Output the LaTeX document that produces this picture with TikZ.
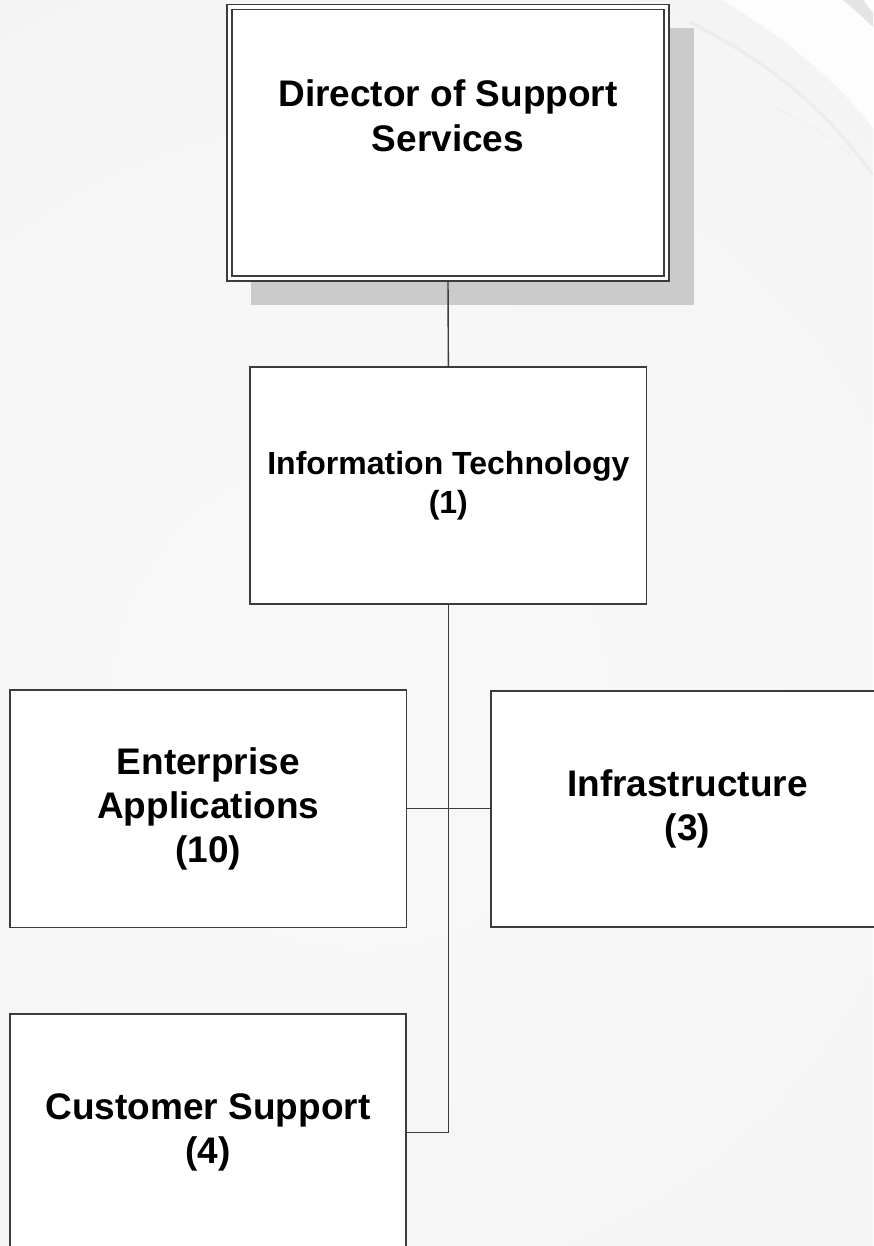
\documentclass[tikz,border=0pt]{standalone}
\usepackage{fontspec}
\setmainfont{Liberation Sans}
\usetikzlibrary{backgrounds}
\definecolor{linecol}{HTML}{3C3C3C}
\definecolor{shadowcol}{HTML}{CBCBCB}
\definecolor{bgin}{HTML}{F9F9F9}
\definecolor{bgout}{HTML}{EDEDED}
\definecolor{stripecol}{HTML}{E4E4E4}
\begin{document}
\begin{tikzpicture}[x=1pt,y=-1pt,
  box/.style={draw=linecol, line width=1.4pt, fill=white, rectangle, inner sep=0pt,
    align=center, font=\bfseries\fontsize{37}{44}\selectfont},
  conn/.style={draw=linecol, line width=1.4pt},
  lbl/.style={align=center, inner sep=0pt, font=\bfseries\fontsize{37}{45}\selectfont}]
\useasboundingbox (0,0) rectangle (873,1246);

% boxes
\node[draw=linecol, line width=1.3pt, double=white, double distance=3.6pt, fill=white,
      rectangle, inner sep=0pt, minimum width=437pt, minimum height=271.7pt] (dir) at (448,142.65) {};
\node[lbl] (dirtext) at (448,116) {Director of Support\\Services};

\node[box, minimum width=396.7pt, minimum height=237pt,
      font=\bfseries\fontsize{32}{39}\selectfont] (it) at (448.35,485.5) {Information Technology\\(1)};

\node[box, minimum width=396.5pt, minimum height=237.3pt] (ent) at (208.25,808.65) {Enterprise\\Applications\\(10)};
\node[box, minimum width=393pt, minimum height=236pt] (inf) at (687.5,809) {Infrastructure\\(3)};
\node[box, minimum width=396pt, minimum height=237pt] (cs) at (208,1132.5) {Customer Support\\(4)};

\begin{scope}[on background layer]
  \clip (0,0) rectangle (873,1246);
  \shade[inner color=bgin, outer color=bgout] (360,700) circle (2000);
  % top-right decoration
  \fill[white, opacity=0.9] (722,0) .. controls (790,40) and (840,85) .. (873,128) -- (873,0) -- cycle;
  \fill[stripecol] (843,0) .. controls (855,10) and (865,19) .. (873,27) -- (873,13) .. controls (869,8) .. (863,0) -- cycle;
  \draw[stripecol!70!white, line width=3pt] (690,22) .. controls (775,65) and (830,115) .. (873,175);
  \draw[stripecol!50!white, line width=1.2pt] (770,105) .. controls (810,125) and (835,140) .. (850,155);
  % shadow
  \fill[shadowcol] (250.6,27.7) rectangle (693.6,305);
  % connectors
  \draw[conn] (dir.south) -- (it.north);
  \draw[conn] (it.south) -- (it.south |- cs.east) -- (cs.east);
  \draw[conn] (ent.east) -- (ent.east -| inf.west);
\end{scope}
\end{tikzpicture}
\end{document}
